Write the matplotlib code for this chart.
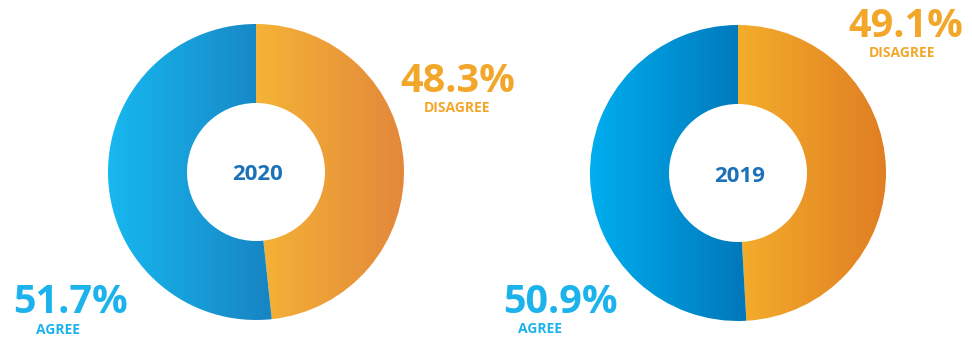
import numpy as np
import matplotlib
matplotlib.use('Agg')
import matplotlib.pyplot as plt
from matplotlib.colors import LinearSegmentedColormap

plt.rcParams['font.family'] = ['Open Sans', 'DejaVu Sans']

years = ['2020', '2019']
disagree = [48.3, 49.1]
agree = [51.7, 50.9]

# gradient colours (left -> right) per donut
orange_grads = [('#F5B336', '#E3883B'), ('#F4AD2B', '#E07E23')]
blue_grads = [('#17B8F0', '#1884C3'), ('#00AEEF', '#0077BA')]

ORANGE_TXT = '#F2A72B'
BLUE_TXT = '#1CB3EC'
YEAR_TXT = '#1C72B8'

fig = plt.figure(figsize=(9.72, 3.41), dpi=100)
ax = fig.add_axes([0, 0, 1, 1])

centers = [(256, 169), (738, 168)]
R, HOLE = 148, 69

for i, year in enumerate(years):
    wedges, _ = ax.pie([disagree[i], agree[i]], center=centers[i], radius=R,
                       startangle=90, counterclock=False,
                       wedgeprops=dict(width=R - HOLE, linewidth=0))
    for w, (c0, c1) in zip(wedges, [orange_grads[i], blue_grads[i]]):
        bb = w.get_path().get_extents()
        cmap = LinearSegmentedColormap.from_list('g', [c0, c1])
        grad = np.linspace(0, 1, 256).reshape(1, -1)
        im = ax.imshow(grad, cmap=cmap, aspect='auto',
                       extent=[bb.x0, bb.x1, bb.y0, bb.y1], zorder=2)
        im.set_clip_path(w)
        w.set_facecolor('none')
    ax.text(centers[i][0] + 2, centers[i][1] - 3, year, ha='center', va='center',
            fontsize=16, fontweight='bold', color=YEAR_TXT, zorder=3)

# value labels
ax.text(458, 341 - 92, f'{disagree[0]}%', ha='center', va='baseline',
        fontsize=28.5, fontweight='bold', color=ORANGE_TXT)
ax.text(457, 341 - 112, 'DISAGREE', ha='center', va='baseline',
        fontsize=10, fontweight='bold', color=ORANGE_TXT)
ax.text(70, 341 - 313, f'{agree[0]}%', ha='center', va='baseline',
        fontsize=28.5, fontweight='bold', color=BLUE_TXT)
ax.text(58, 341 - 334, 'AGREE', ha='center', va='baseline',
        fontsize=10, fontweight='bold', color=BLUE_TXT)

ax.text(906, 341 - 37, f'{disagree[1]}%', ha='center', va='baseline',
        fontsize=28.5, fontweight='bold', color=ORANGE_TXT)
ax.text(902, 341 - 57, 'DISAGREE', ha='center', va='baseline',
        fontsize=10, fontweight='bold', color=ORANGE_TXT)
ax.text(560, 341 - 313, f'{agree[1]}%', ha='center', va='baseline',
        fontsize=28.5, fontweight='bold', color=BLUE_TXT)
ax.text(540, 341 - 333, 'AGREE', ha='center', va='baseline',
        fontsize=10, fontweight='bold', color=BLUE_TXT)

ax.set_xlim(0, 972)
ax.set_ylim(0, 341)
ax.set_aspect('auto')
ax.axis('off')

fig.savefig('out.png', dpi=100, facecolor='white')
